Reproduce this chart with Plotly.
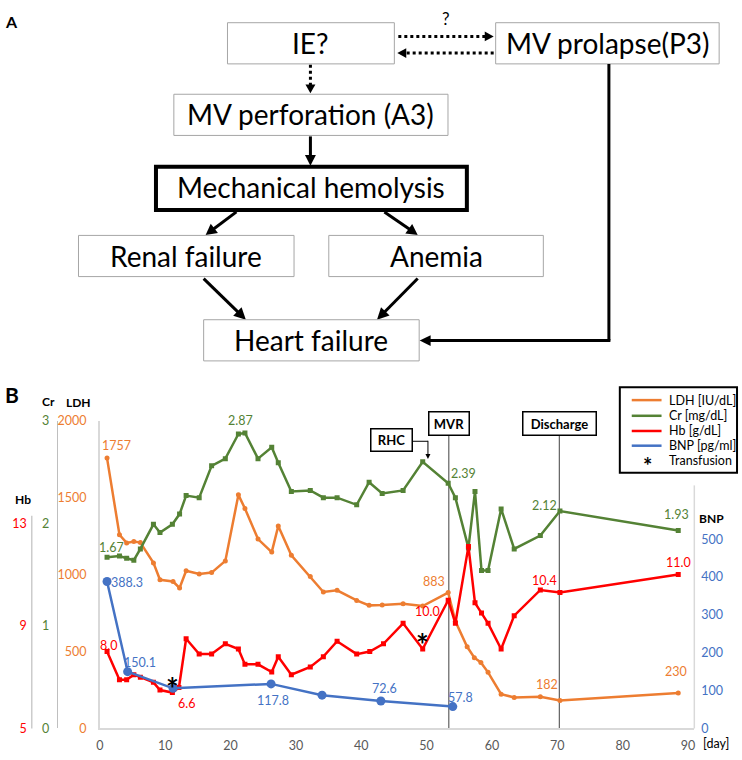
import math
import plotly.graph_objects as go

W, H = 742, 760
FONT = "Lato"

# ---------------- data (panel B) ----------------
ldh_days = [1.1, 3.0, 4.1, 5.2, 6.2, 8.2, 9.2, 11.2, 12.2, 13.2, 15.2, 17.1, 19.2, 21.2, 22.2, 24.2,
            26.3, 27.3, 29.3, 32.2, 34.2, 36.3, 39.3, 41.2, 43.2, 46.4, 49.4, 53.3, 54.4, 56.2,
            57.3, 58.3, 59.4, 61.4, 63.4, 67.4, 70.4, 88.5]
ldh = [1757, 1259, 1206, 1215, 1208, 1076, 966, 955, 913, 1025, 1004, 1013, 1089, 1518, 1429, 1231,
       1146, 1316, 1125, 987, 887, 898, 832, 800, 802, 811, 796, 883, 696, 531,
       460, 429, 365, 223, 202, 206, 182, 230]

cr_days = [1.1, 3.0, 4.1, 5.2, 6.2, 8.2, 9.2, 11.1, 12.2, 13.2, 15.2, 17.1, 19.2, 21.2, 22.2, 24.2,
           26.3, 27.3, 29.3, 32.2, 34.2, 36.3, 39.3, 41.2, 43.2, 46.4, 49.4, 53.3, 54.4, 56.4,
           57.4, 58.4, 59.4, 61.4, 63.4, 67.4, 70.4, 88.5]
cr = [1.67, 1.68, 1.66, 1.64, 1.75, 1.99, 1.91, 1.99, 2.09, 2.27, 2.25, 2.56, 2.63, 2.87, 2.88, 2.63,
      2.74, 2.59, 2.31, 2.32, 2.25, 2.25, 2.18, 2.40, 2.29, 2.32, 2.60, 2.39, 2.25, 1.76,
      2.31, 1.54, 1.54, 2.14, 1.75, 1.88, 2.12, 1.93]

hb_days = [1.1, 3.0, 4.1, 5.2, 6.2, 8.2, 9.2, 11.1, 12.1, 13.2, 15.2, 17.1, 19.2, 21.2, 22.2, 24.2,
           26.3, 27.3, 29.3, 32.2, 34.2, 36.3, 39.3, 41.3, 43.4, 46.4, 49.4, 53.3, 54.4, 56.4,
           57.4, 58.4, 59.4, 61.4, 63.4, 67.4, 70.4, 88.5]
hb = [8.0, 6.9, 6.9, 7.1, 7.0, 6.8, 6.5, 6.4, 6.6, 8.5, 7.9, 7.9, 8.3, 8.1, 7.5, 7.5,
      7.2, 7.8, 7.1, 7.4, 7.8, 8.4, 7.9, 8.0, 8.3, 9.1, 8.1, 10.0, 9.1, 12.1,
      9.9, 9.5, 9.1, 8.1, 9.4, 10.4, 10.3, 11.0]

bnp_days = [1.1, 4.25, 11.2, 26.2, 34.0, 43.0, 54.0]
bnp = [388.3, 150.1, 106, 117.8, 88, 72.6, 57.8]

transfusion_days = [11.1, 49.4]
events = {"RHC": 50.2, "MVR": 53.4, "Discharge": 70.3}

x_ticks = list(range(0, 91, 10))
ldh_ticks = [0, 500, 1000, 1500, 2000]
cr_ticks = [0, 1, 2, 3]
hb_ticks = [5, 9, 13]
bnp_ticks = [0, 100, 200, 300, 400, 500]

C_LDH, C_CR, C_HB, C_BNP = "#ED7D31", "#548235", "#FF0000", "#4472C4"
FS = 12.5  # chart text size

# ---------------- helpers ----------------
def X(px):
    return px / W


def Y(py):
    return 1 - py / H


shapes, annotations = [], []


def rect(x0, y0, x1, y1, color="#A6A6A6", width=1, fill="white"):
    shapes.append(dict(type="rect", xref="paper", yref="paper", x0=X(x0), x1=X(x1),
                       y0=Y(y1), y1=Y(y0), line=dict(color=color, width=width),
                       fillcolor=fill))


def seg(x0, y0, x1, y1, width=3, dash="solid", color="black"):
    shapes.append(dict(type="line", xref="paper", yref="paper", x0=X(x0), y0=Y(y0),
                       x1=X(x1), y1=Y(y1), line=dict(color=color, width=width, dash=dash)))


def arrow(x0, y0, x1, y1, width=3, dash="solid", head=11, half=6):
    dx, dy = x1 - x0, y1 - y0
    L = math.hypot(dx, dy)
    ux, uy = dx / L, dy / L
    bx, by = x1 - ux * head, y1 - uy * head
    seg(x0, y0, bx + ux, by + uy, width, dash)
    nx, ny = -uy, ux
    path = (f"M {X(x1)},{Y(y1)} L {X(bx + nx * half)},{Y(by + ny * half)} "
            f"L {X(bx - nx * half)},{Y(by - ny * half)} Z")
    shapes.append(dict(type="path", xref="paper", yref="paper", path=path,
                       fillcolor="black", line=dict(width=0)))


def label(x, y, s, size, color="black", xanchor="center"):
    annotations.append(dict(xref="paper", yref="paper", x=X(x), y=Y(y), text=s,
                            showarrow=False, xanchor=xanchor, yanchor="middle",
                            font=dict(family=FONT, size=size, color=color)))


# ---------------- panel A: flow chart ----------------
FA = 28
label(8, 14, "<b>A</b>", 16)
rect(225, 15, 393, 57)
label(309, 36, "IE?", FA)
rect(495, 15, 720, 57)
label(607.5, 36, "MV prolapse(P3)", FA)
label(445, 11, "?", 17)
arrow(397, 29, 493, 29, width=3, dash="dot", head=9, half=5)
arrow(493, 46, 396, 46, width=3, dash="dot", head=9, half=5)
arrow(308.5, 58, 308.5, 87, width=3, dash="dot", head=9, half=5)
rect(171, 88, 447, 130)
label(309, 108, "MV perforation (A3)", FA)
arrow(308.5, 131, 308.5, 161, width=3, head=11, half=5.5)
rect(153, 162, 466, 206, color="black", width=4)
label(309.5, 183, "Mechanical hemolysis", FA)
arrow(234, 208, 203, 231.5, width=3, head=11, half=6)
arrow(383, 208, 416.5, 231.5, width=3, head=11, half=6)
rect(75, 232, 292, 274)
label(183.5, 253, "Renal failure", FA)
rect(327, 232, 543, 274)
label(435, 253, "Anemia", FA)
arrow(201, 276, 243.5, 318, width=3, head=12, half=6)
arrow(416.5, 276, 375.5, 318, width=3, head=12, half=6)
rect(201, 318, 418, 360)
label(309.5, 339, "Heart failure", FA)
seg(609, 57, 609, 339.3, width=3)
arrow(610.5, 339.3, 418.5, 339.3, width=3, head=11, half=5.5)

# ---------------- panel B: chart ----------------
label(8.5, 394, "<b>B</b>", 21)
label(44.5, 401.5, "<b>Cr</b>", 12)
label(75.5, 402, "<b>LDH</b>", 12)
label(19, 501, "<b>Hb</b>", 12)
label(712.5, 521, "<b>BNP</b>", 12)
label(716.5, 750.5, "[day]", FS)

# axis lines drawn only over their labelled extent
seg(28, 518, 28, 735, width=1.2, color="#BFBFBF")
seg(695, 487, 695, 735, width=1.5, color="#D9D9D9")

fig = go.Figure()
fig.add_trace(go.Scatter(x=ldh_days, y=ldh, mode="lines+markers", yaxis="y", name="LDH [IU/dL]",
                         line=dict(color=C_LDH, width=2.5),
                         marker=dict(symbol="circle", size=5, color=C_LDH), hoverinfo="skip"))
fig.add_trace(go.Scatter(x=cr_days, y=cr, mode="lines+markers", yaxis="y2", name="Cr [mg/dL]",
                         line=dict(color=C_CR, width=2.5),
                         marker=dict(symbol="square", size=5, color=C_CR), hoverinfo="skip"))
fig.add_trace(go.Scatter(x=hb_days, y=hb, mode="lines+markers", yaxis="y3", name="Hb [g/dL]",
                         line=dict(color=C_HB, width=2.5),
                         marker=dict(symbol="square", size=5, color=C_HB), hoverinfo="skip"))
fig.add_trace(go.Scatter(x=bnp_days, y=bnp, mode="lines+markers", yaxis="y4", name="BNP [pg/ml]",
                         line=dict(color=C_BNP, width=2.5),
                         marker=dict(symbol="circle", size=9, color=C_BNP), hoverinfo="skip"))


def data_label(yref, xv, yv, txt, dx, dy, color):
    annotations.append(dict(xref="x", yref=yref, x=xv, y=yv, text=txt, showarrow=False,
                            xshift=dx, yshift=dy, xanchor="center", yanchor="middle",
                            font=dict(family=FONT, size=FS, color=color)))


for i, dx, dy in [(0, 9.6, 13), (27, -14, 11.4), (36, -13, 15.7), (37, -1.8, 21.2)]:
    data_label("y", ldh_days[i], ldh[i], f"{ldh[i]}", dx, dy, C_LDH)
for i, dx, dy in [(0, 4.8, 9.5), (13, 2, 13.6), (27, 15.8, 9.8), (36, -15.7, 5.4), (37, -2.1, 15.7)]:
    data_label("y2", cr_days[i], cr[i], f"{cr[i]:.2f}", dx, dy, C_CR)
for i, dx, dy in [(0, 1.3, 6), (8, 7.4, -16), (27, -20.2, -11), (35, 4, 9), (37, 0.5, 12.5)]:
    data_label("y3", hb_days[i], hb[i], f"{hb[i]:.1f}", dx, dy, C_HB)
for i, dx, dy in [(0, 20.3, -1), (1, 12.2, 9.3), (3, 1.6, -16.5), (5, 4.1, 12.7), (6, 8.2, 9.4)]:
    data_label("y4", bnp_days[i], bnp[i], f"{bnp[i]:.1f}", dx, dy, C_BNP)

# transfusion asterisks above the Hb points
for d in transfusion_days:
    annotations.append(dict(xref="x", yref="y3", x=d, y=hb[hb_days.index(d)], text="<b>*</b>",
                            showarrow=False, yshift=5, xanchor="center", yanchor="middle",
                            font=dict(family=FONT, size=30, color="black")))

# event markers
BASE, TOPY = 735, 436
for name in ["MVR", "Discharge"]:
    shapes.append(dict(type="line", xref="x", yref="paper", x0=events[name], x1=events[name],
                       y0=Y(BASE), y1=Y(TOPY), line=dict(color="#404040", width=1), layer="below"))
annotations.append(dict(xref="x", yref="paper", x=events["MVR"], y=Y(424), text="<b>MVR</b>",
                        showarrow=False, width=39, height=22, borderpad=0, bordercolor="black",
                        borderwidth=1.5, bgcolor="white", xanchor="center", yanchor="middle",
                        font=dict(family=FONT, size=13, color="black")))
annotations.append(dict(xref="x", yref="paper", x=events["Discharge"], y=Y(424),
                        text="<b>Discharge</b>", showarrow=False, width=72, height=22,
                        borderpad=0, bordercolor="black", borderwidth=1.5, bgcolor="white",
                        xanchor="center", yanchor="middle",
                        font=dict(family=FONT, size=13, color="black")))
annotations.append(dict(xref="paper", yref="paper", x=X(390), y=Y(440.5), text="<b>RHC</b>",
                        showarrow=False, width=40, height=21, borderpad=0, bordercolor="black",
                        borderwidth=1.5, bgcolor="white", xanchor="center", yanchor="middle",
                        font=dict(family=FONT, size=13, color="black")))
rhc_px = 96.5 + 6.58 * events["RHC"]
seg(411, 442, rhc_px, 442, width=1, color="black")
arrow(rhc_px, 441.5, rhc_px, 460, width=1, head=5, half=2.5)

# legend (drawn box)
rect(620, 387, 738, 474, color="black", width=2)
leg_rows = [("LDH [IU/dL]", C_LDH, 400), ("Cr [mg/dL]", C_CR, 416), ("Hb [g/dL]", C_HB, 431.5),
            ("BNP [pg/ml]", C_BNP, 446.5)]
for name, col, yy in leg_rows:
    seg(632, yy, 662, yy, width=2.5, color=col)
    label(667, yy, name, FS, xanchor="left")
label(667, 462, "Transfusion", FS, xanchor="left")
annotations.append(dict(xref="paper", yref="paper", x=X(648), y=Y(462), text="<b>*</b>",
                        showarrow=False, yshift=-5, xanchor="center", yanchor="middle",
                        font=dict(family=FONT, size=22, color="black")))

ydom = [Y(735), Y(421)]
fig.update_layout(
    width=W, height=H, autosize=False,
    margin=dict(l=0, r=0, t=0, b=0, pad=0),
    paper_bgcolor="white", plot_bgcolor="white",
    font=dict(family=FONT, size=FS),
    showlegend=False,
    xaxis=dict(domain=[X(96.5), X(695)], range=[0, 90.96], tickvals=x_ticks, showgrid=False,
               zeroline=False, showline=True, linecolor="#D9D9D9", linewidth=1.5, ticks="",
               tickfont=dict(family=FONT, size=FS, color="#595959"), ticklabelstandoff=5),
    yaxis=dict(domain=ydom, range=[0, 2000], tickvals=ldh_ticks, showgrid=False, zeroline=False,
               showline=True, linecolor="#D9D9D9", linewidth=1.5, ticks="",
               tickfont=dict(family=FONT, size=FS, color=C_LDH), ticklabelstandoff=9),
    yaxis2=dict(overlaying="y", anchor="free", position=X(53.3), side="left", range=[0, 3],
                tickvals=cr_ticks, showgrid=False, zeroline=False, showline=True,
                linecolor="#BFBFBF", linewidth=1.2, ticks="",
                tickfont=dict(family=FONT, size=FS, color=C_CR), ticklabelstandoff=5),
    yaxis3=dict(overlaying="y", anchor="free", position=X(28), side="left", range=[5, 17],
                tickvals=hb_ticks, showgrid=False, zeroline=False, showline=False, ticks="",
                tickfont=dict(family=FONT, size=FS, color=C_HB), ticklabelstandoff=5),
    yaxis4=dict(overlaying="y", anchor="x", side="right", range=[0, 813], tickvals=bnp_ticks,
                showgrid=False, zeroline=False, showline=False, ticks="",
                tickfont=dict(family=FONT, size=FS, color=C_BNP), ticklabelstandoff=6),
    shapes=shapes,
    annotations=annotations,
)

fig.write_html("out.html", include_plotlyjs=True, config={"displayModeBar": False})
